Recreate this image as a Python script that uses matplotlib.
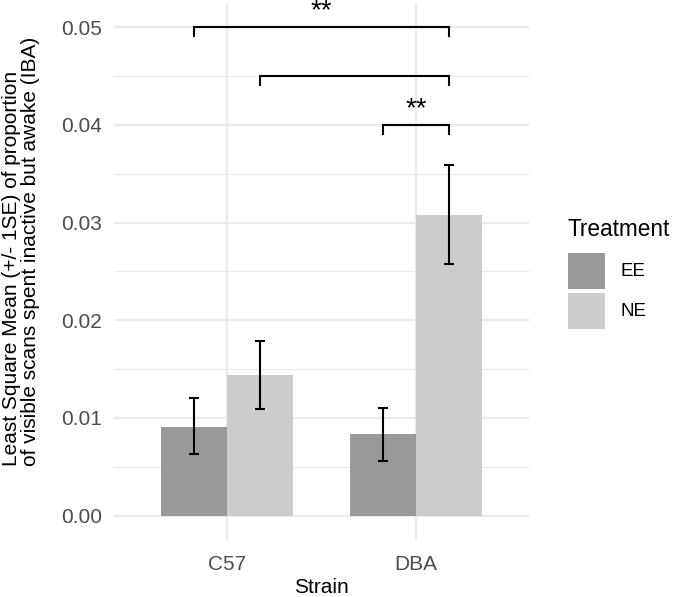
import numpy as np
import matplotlib
matplotlib.use('Agg')
import matplotlib.pyplot as plt
from matplotlib.patches import Rectangle

plt.rcParams['font.family'] = ['Liberation Sans', 'DejaVu Sans']

# Data
strains = ['C57', 'DBA']
treatments = ['EE', 'NE']
means = {'EE': [0.0091, 0.0083], 'NE': [0.0144, 0.0308]}
lower = {'EE': [0.0063, 0.0056], 'NE': [0.0109, 0.0258]}
upper = {'EE': [0.0120, 0.0110], 'NE': [0.0179, 0.0359]}
fills = {'EE': '#999999', 'NE': '#CCCCCC'}

# significance brackets: (group index, treatment) pairs
bracket_from = [(0, 'EE'), (0, 'NE'), (1, 'EE')]
bracket_to = [(1, 'NE'), (1, 'NE'), (1, 'NE')]
bracket_y = [0.050, 0.045, 0.040]
bracket_label = ['**', '', '**']

bar_w = 0.35
offset = {'EE': -bar_w / 2, 'NE': bar_w / 2}
x = np.arange(1, len(strains) + 1)

W, H = 682, 597
fig = plt.figure(figsize=(W / 100, H / 100), dpi=100)
ax = fig.add_axes([114 / W, 57 / H, 415 / W, 537.3 / H])

# grid like theme_minimal
for v in np.arange(0, 0.0501, 0.01):
    ax.axhline(v, color='#EBEBEB', lw=1.6, zorder=0)
for v in np.arange(0.005, 0.05, 0.01):
    ax.axhline(v, color='#EBEBEB', lw=0.8, zorder=0)
for v in x:
    ax.axvline(v, color='#EBEBEB', lw=1.6, zorder=0)

for t in treatments:
    xs = x + offset[t]
    m = np.array(means[t])
    ax.bar(xs, m, width=bar_w, color=fills[t], zorder=2)
    err = [m - np.array(lower[t]), np.array(upper[t]) - m]
    ax.errorbar(xs, m, yerr=err, fmt='none', ecolor='black', elinewidth=1.5,
                capsize=3.8, capthick=1.5, zorder=3)

tip = 0.0009
for (g1, t1), (g2, t2), y, lab in zip(bracket_from, bracket_to, bracket_y, bracket_label):
    x1 = x[g1] + offset[t1]
    x2 = x[g2] + offset[t2]
    ax.plot([x1, x1, x2, x2], [y - tip, y, y, y - tip], color='black', lw=1.5,
            solid_joinstyle='miter', zorder=3)
    if lab:
        ax.text((x1 + x2) / 2, y + 0.0009, lab, ha='center', va='baseline',
                fontsize=20, color='black')

ax.set_xlim(0.4, 2.6)
ax.set_ylim(-0.0025, 0.0525)
ax.set_yticks(np.arange(0, 0.0501, 0.01))
ax.set_yticklabels(['0.00', '0.01', '0.02', '0.03', '0.04', '0.05'])
ax.set_xticks(x)
ax.set_xticklabels(strains)
ax.tick_params(axis='both', length=0, labelsize=15, labelcolor='#4D4D4D')
ax.tick_params(axis='y', pad=8.5)
ax.tick_params(axis='x', pad=11)
for s in ax.spines.values():
    s.set_visible(False)

ax.set_xlabel('Strain', fontsize=15, labelpad=3)
ax.set_ylabel('Least Square Mean (+/- 1SE) of proportion\nof visible scans spent inactive but awake (IBA)',
              fontsize=15, linespacing=1.0, multialignment='left')
ax.yaxis.set_label_coords(-0.179, 0.537)

# legend drawn in figure pixels
fig.text(568 / W, 1 - 236.5 / H, 'Treatment', fontsize=16.3, ha='left', va='baseline')
for i, t in enumerate(treatments):
    top = 253 + 40 * i
    fig.add_artist(Rectangle((568 / W, 1 - (top + 36) / H), 37 / W, 36 / H,
                             transform=fig.transFigure, facecolor=fills[t],
                             edgecolor='none'))
    fig.text(621 / W, 1 - (top + 18) / H, t, fontsize=13.5, ha='left', va='center')

fig.savefig('out.png', dpi=100)
